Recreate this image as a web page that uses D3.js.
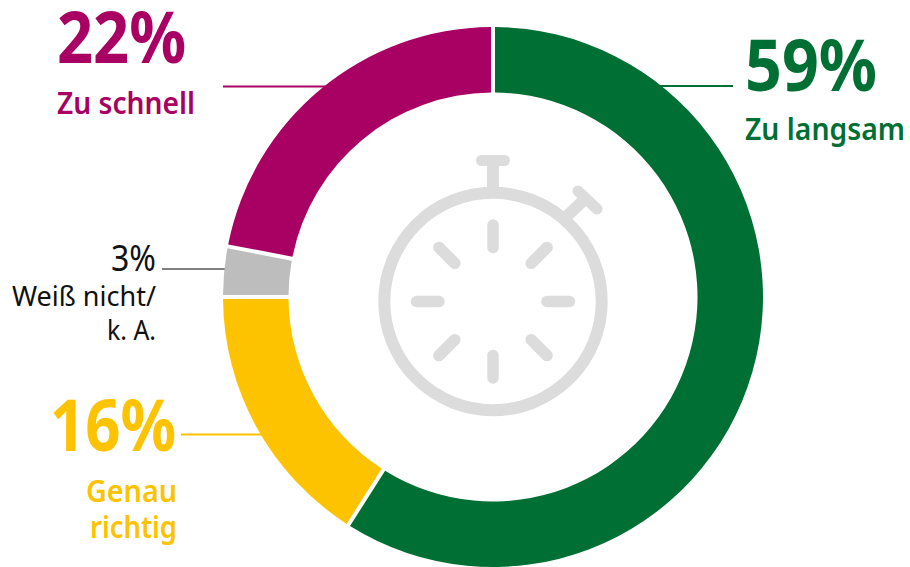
<!DOCTYPE html>
<html>
<head>
<meta charset="utf-8">
<script src="https://cdn.jsdelivr.net/npm/d3@7"></script>
<style>
  html, body { margin: 0; padding: 0; background: #fff; }
  svg { display: block; }
  text { font-family: "Noto Sans", sans-serif; }
</style>
</head>
<body>
<svg id="chart" width="910" height="567"></svg>
<script>
// Values, clockwise from 12 o'clock
const categories = ["Zu langsam", "Genau richtig", "Weiß nicht/ k. A.", "Zu schnell"];
const shares = [59, 16, 3, 22];
const sliceColors = ["#006f34", "#fdc300", "#bdbdbd", "#a80063"];

const center = {x: 493, y: 297};
const outerR = 270;
const innerR = 204.5;
const gap = 4; // white gap between slices, px

const svg = d3.select("#chart");

// pad on the arc, not the pie, so the slice borders stay at the exact shares
const pie = d3.pie().sort(null).value(d => d);
const arc = d3.arc().innerRadius(innerR).outerRadius(outerR).padRadius(240).padAngle(gap / 240);

const ring = svg.append("g").attr("transform", `translate(${center.x},${center.y})`);

// leader lines go under the ring
const leaders = [
    {x1: 655, x2: 733, y: 86, color: sliceColors[0]},
    {x1: 181, x2: 270, y: 434.5, color: sliceColors[1]},
    {x1: 162, x2: 235, y: 269, color: "#808080"},
    {x1: 223, x2: 335, y: 86.5, color: sliceColors[3]},
];
svg.insert("g", "g").selectAll("line").data(leaders).join("line")
    .attr("x1", d => d.x1).attr("x2", d => d.x2)
    .attr("y1", d => d.y).attr("y2", d => d.y)
    .attr("stroke", d => d.color).attr("stroke-width", 2);

ring.selectAll("path").data(pie(shares)).join("path")
    .attr("d", arc)
    .attr("fill", (d, i) => sliceColors[i]);

// Stopwatch
const watch = svg.append("g")
    .attr("fill", "none").attr("stroke", "#dcdcdc").attr("stroke-linecap", "round");
const wc = {x: 493, y: 301.5};
watch.append("circle").attr("cx", wc.x).attr("cy", wc.y).attr("r", 108.7).attr("stroke-width", 12);
watch.append("line").attr("x1", wc.x).attr("x2", wc.x).attr("y1", 161).attr("y2", 190).attr("stroke-width", 12).attr("stroke-linecap", "butt");
watch.append("line").attr("x1", wc.x - 11.5).attr("x2", wc.x + 11.5).attr("y1", 160.5).attr("y2", 160.5).attr("stroke-width", 11);
watch.append("line").attr("x1", 565).attr("y1", 218).attr("x2", 587).attr("y2", 197).attr("stroke-width", 12).attr("stroke-linecap", "butt");
watch.append("line").attr("x1", 578).attr("y1", 191).attr("x2", 597).attr("y2", 209).attr("stroke-width", 11);
d3.range(8).forEach(i => {
    const a = i * Math.PI / 4;
    watch.append("line")
        .attr("x1", wc.x + Math.sin(a) * 54).attr("y1", wc.y - Math.cos(a) * 54)
        .attr("x2", wc.x + Math.sin(a) * 76.5).attr("y2", wc.y - Math.cos(a) * 76.5)
        .attr("stroke-width", 11.5);
});

// Labels, width squeezed to the narrower face of the original
const labels = [
    {text: "59%", x: 745, y: 90.5, size: 72, width: 132, weight: 700, color: sliceColors[0]},
    {text: "Zu langsam", x: 745, y: 140, size: 31, width: 160, weight: 600, color: sliceColors[0]},
    {text: "22%", x: 57, y: 62.5, size: 72, width: 129, weight: 700, color: sliceColors[3]},
    {text: "Zu schnell", x: 57, y: 114, size: 31, width: 138, weight: 600, color: sliceColors[3]},
    {text: "16%", x: 50, y: 450.5, size: 72, width: 126, weight: 700, color: sliceColors[1]},
    {text: "Genau", x: 86, y: 501.5, size: 31, width: 91, weight: 600, color: sliceColors[1]},
    {text: "richtig", x: 90, y: 538, size: 31, width: 87, weight: 600, color: sliceColors[1]},
    {text: "3%", x: 111, y: 270.5, size: 37, width: 45, weight: 400, color: "#111"},
    {text: "Weiß nicht/", x: 12, y: 306, size: 27, width: 144, weight: 400, color: "#111"},
    {text: "k. A.", x: 107, y: 340, size: 27, width: 49, weight: 400, color: "#111"},
];
svg.append("g").selectAll("text").data(labels).join("text")
    .attr("x", d => d.x).attr("y", d => d.y)
    .attr("font-size", d => d.size).attr("font-weight", d => d.weight)
    .attr("fill", d => d.color)
    .attr("textLength", d => d.width).attr("lengthAdjust", "spacingAndGlyphs")
    .text(d => d.text);
</script>
</body>
</html>
